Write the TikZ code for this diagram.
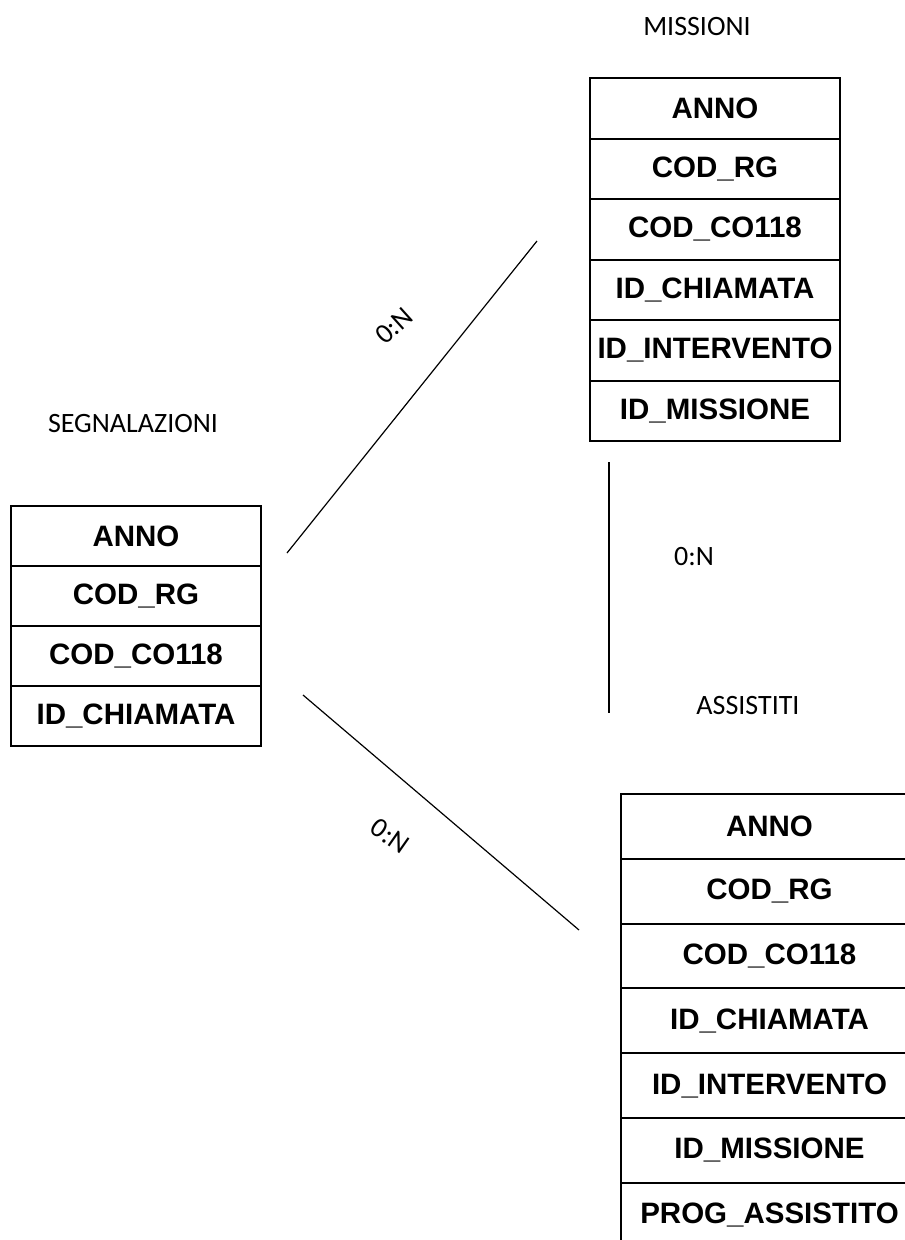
\documentclass[tikz,border=0pt]{standalone}
\usepackage{fontspec}
\setmainfont{Liberation Sans}
\newfontfamily\labelfont{Carlito}
\begin{document}
\begin{tikzpicture}[x=1pt,y=-1pt,
  cell/.style={draw, line width=2pt, anchor=north west, inner sep=0pt,
    font=\fontsize{29.5}{31}\selectfont\bfseries},
  lbl/.style={font=\labelfont\fontsize{28}{30}\selectfont, inner sep=0pt},
  conn/.style={line width=1.2pt}]
\useasboundingbox[fill=white] (0,0) rectangle (905,1240);

% MISSIONI
\node[lbl] (mt) at (697,27) {MISSIONI};
\foreach \t [count=\i] in {ANNO,COD\_RG,COD\_CO118,ID\_CHIAMATA,ID\_INTERVENTO,ID\_MISSIONE}
  \node[cell, minimum width=250pt, minimum height=60.5pt] (m\i) at (589,{77+60.5*(\i-1)}) {\t};

% SEGNALAZIONI
\node[lbl] (st) at (133,424) {SEGNALAZIONI};
\foreach \t [count=\i] in {ANNO,COD\_RG,COD\_CO118,ID\_CHIAMATA}
  \node[cell, minimum width=250pt, minimum height=60pt] (s\i) at (10,{505+60*(\i-1)}) {\t};

% ASSISTITI
\node[lbl] (at) at (748,706) {ASSISTITI};
\foreach \t [count=\i] in {ANNO,COD\_RG,COD\_CO118,ID\_CHIAMATA,ID\_INTERVENTO,ID\_MISSIONE,PROG\_ASSISTITO}
  \node[cell, minimum width=297pt, minimum height=64.8pt] (a\i) at (620,{793+64.8*(\i-1)}) {\t};

% connectors
\coordinate (l1a) at (287,553);
\coordinate (l1b) at (537,241);
\coordinate (l2a) at (609,462);
\coordinate (l2b) at (609,713);
\coordinate (l3a) at (303,695);
\coordinate (l3b) at (579,930);
\draw[conn] (l1a) -- (l1b);
\draw[conn] (l2a) -- (l2b);
\draw[conn] (l3a) -- (l3b);

% cardinalities
\node[lbl, rotate=42] (c1) at (394,326) {0:N};
\node[lbl] (c2) at (694,557) {0:N};
\node[lbl, rotate=-35] (c3) at (390,836) {0:N};
\end{tikzpicture}
\end{document}
